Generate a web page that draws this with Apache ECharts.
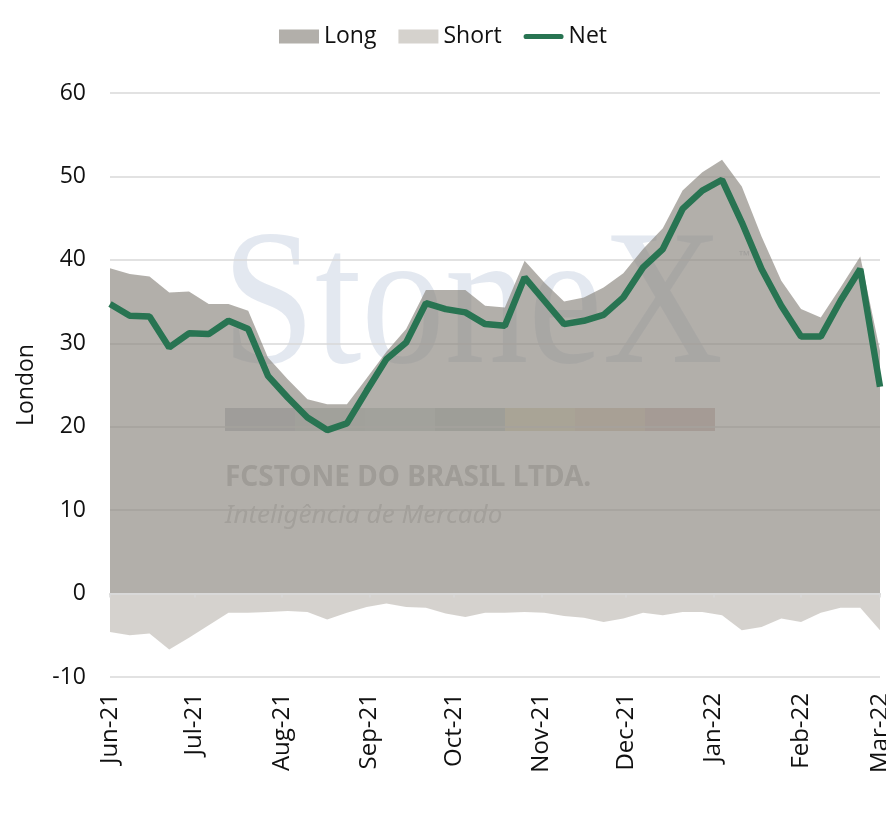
<!DOCTYPE html>
<html>
<head>
<meta charset="utf-8">
<script src="https://cdn.jsdelivr.net/npm/echarts@6/dist/echarts.min.js"></script>
<style>
  html, body { margin: 0; padding: 0; background: #fff; }
  #plot { width: 886px; height: 827px; }
</style>
</head>
<body>
<div id="plot"></div>
<script>
// weekly report dates (Tuesdays)
const weeks = [
    '2021-06-01', '2021-06-08', '2021-06-15', '2021-06-22', '2021-06-29',
    '2021-07-06', '2021-07-13', '2021-07-20', '2021-07-27',
    '2021-08-03', '2021-08-10', '2021-08-17', '2021-08-24', '2021-08-31',
    '2021-09-07', '2021-09-14', '2021-09-21', '2021-09-28',
    '2021-10-05', '2021-10-12', '2021-10-19', '2021-10-26',
    '2021-11-02', '2021-11-09', '2021-11-16', '2021-11-23', '2021-11-30',
    '2021-12-07', '2021-12-14', '2021-12-21', '2021-12-28',
    '2022-01-04', '2022-01-11', '2022-01-18', '2022-01-25',
    '2022-02-01', '2022-02-08', '2022-02-15', '2022-02-22',
    '2022-03-01'
];

const longPos = [
    39.0, 38.3, 38.0, 36.1, 36.2, 34.7, 34.7, 33.9, 28.3, 25.7,
    23.3, 22.7, 22.7, 25.8, 29.0, 31.7, 36.4, 36.4, 36.4, 34.5,
    34.3, 39.9, 37.3, 35.0, 35.5, 36.7, 38.4, 41.3, 43.8, 48.3,
    50.5, 52.0, 48.8, 42.8, 37.5, 34.1, 33.1, 36.7, 40.4, 29.1
];

const shortPos = [
    -4.6, -5.0, -4.8, -6.7, -5.3, -3.8, -2.3, -2.3, -2.2, -2.1,
    -2.2, -3.1, -2.3, -1.6, -1.2, -1.6, -1.7, -2.4, -2.8, -2.3,
    -2.3, -2.2, -2.3, -2.7, -2.9, -3.4, -3.0, -2.3, -2.6, -2.2,
    -2.2, -2.6, -4.4, -4.0, -3.0, -3.4, -2.3, -1.7, -1.7, -4.4
];

const netPos = [
    34.7, 33.3, 33.2, 29.5, 31.2, 31.1, 32.7, 31.7, 26.1, 23.5,
    21.1, 19.6, 20.4, 24.3, 28.1, 30.1, 34.8, 34.1, 33.7, 32.3,
    32.1, 37.9, 35.1, 32.3, 32.7, 33.4, 35.5, 39.1, 41.3, 46.1,
    48.3, 49.6, 44.5, 38.9, 34.5, 30.8, 30.8, 35.1, 38.9, 24.8
];

const tickDates = [
    '2021-06-01', '2021-07-01', '2021-08-01', '2021-09-01', '2021-10-01',
    '2021-11-01', '2021-12-01', '2022-01-01', '2022-02-01', '2022-03-01'
];
const tickLabels = [
    'Jun-21', 'Jul-21', 'Aug-21', 'Sep-21', 'Oct-21',
    'Nov-21', 'Dec-21', 'Jan-22', 'Feb-22', 'Mar-22'
];

const yTicks = [-10, 0, 10, 20, 30, 40, 50, 60];

// dates -> day numbers (days since 2021-06-01), so the x axis is a plain value axis
function toDay(s) {
    const p = s.split('-').map(Number);
    return Math.round((Date.UTC(p[0], p[1] - 1, p[2]) - Date.UTC(2021, 5, 1)) / 86400000);
}

function drawPlot() {
    const chartDom = document.getElementById('plot');
    const myChart = echarts.init(chartDom);

    const tickDays = tickDates.map(toDay);
    const pair = arr => weeks.map((w, i) => [toDay(w), arr[i]]);
    const font = '"Open Sans", "Noto Sans", sans-serif';

    // StoneX watermark colour strip
    const stripColors = ['#c7cbcf', '#cdd5d4', '#cfd9d5', '#c3cec9', '#e4dfc4', '#e2d3c0', '#d9c3c1'];
    const strip = stripColors.map((c, i) => ({
        type: 'rect',
        z: -1,
        shape: { x: 225 + i * 70, y: 408, width: 70, height: 23 },
        style: { fill: c }
    }));

    const option = {
        animation: false,
        textStyle: { fontFamily: font },
        graphic: [
            {
                type: 'text',
                z: -1,
                x: 222, y: 312,
                scaleX: 0.87,
                style: {
                    text: 'StoneX',
                    font: 'normal 192px "Liberation Serif", "DejaVu Serif", serif',
                    fill: 'rgba(200,210,225,0.5)',
                    textAlign: 'left',
                    textVerticalAlign: 'middle'
                }
            },
            {
                type: 'text',
                z: -1,
                x: 738, y: 256,
                style: { text: '™', font: '12px sans-serif', fill: '#c8ccd4', textVerticalAlign: 'middle' }
            },
            ...strip,
            {
                type: 'text',
                z: -1,
                x: 225, y: 478,
                style: {
                    text: 'FCSTONE DO BRASIL LTDA.',
                    font: 'bold 28px "Noto Sans", sans-serif',
                    fill: '#c6c6c6',
                    textVerticalAlign: 'middle'
                }
            },
            {
                type: 'text',
                z: -1,
                x: 225, y: 516,
                style: {
                    text: 'Inteligência de Mercado',
                    font: 'italic 26px "Noto Sans", sans-serif',
                    fill: '#d2d2d2',
                    textVerticalAlign: 'middle'
                }
            }
        ],
        legend: {
            top: 20,
            left: 'center',
            itemWidth: 40,
            itemHeight: 14,
            itemGap: 22,
            textStyle: { fontSize: 23, color: '#111', fontFamily: font },
            data: [
                { name: 'Long', icon: 'rect', itemStyle: { color: '#b2afaa' } },
                { name: 'Short', icon: 'rect', itemStyle: { color: '#d5d2cd' } },
                {
                    name: 'Net',
                    icon: 'path://M3,0 H43 A3,3 0 0 1 43,6 H3 A3,3 0 0 1 3,0 Z',
                    itemStyle: { color: '#287452' }
                }
            ]
        },
        grid: { left: 110, right: 6, top: 93, bottom: 150, outerBoundsMode: 'none', containLabel: false },
        xAxis: [
            {
                type: 'value',
                min: tickDays[0],
                max: tickDays[tickDays.length - 1],
                position: 'bottom',
                axisLine: { show: false, onZero: false },
                axisTick: { show: false },
                splitLine: { show: false },
                axisLabel: {
                    rotate: 90,
                    margin: 16,
                    fontSize: 24,
                    color: '#111',
                    fontFamily: font,
                    customValues: tickDays,
                    showMinLabel: true,
                    showMaxLabel: true,
                    formatter: v => {
                        const k = tickDays.indexOf(v);
                        return k >= 0 ? tickLabels[k] : '';
                    }
                }
            },
            {
                type: 'value',
                min: tickDays[0],
                max: tickDays[tickDays.length - 1],
                position: 'bottom',
                z: 10,
                axisLine: { show: true, onZero: true, lineStyle: { color: '#d9d9d9', width: 2 } },
                axisTick: {
                    show: true,
                    length: 4,
                    customValues: tickDays,
                    lineStyle: { color: '#d9d9d9', width: 1.5 }
                },
                axisLabel: { show: false },
                splitLine: { show: false }
            }
        ],
        yAxis: {
            type: 'value',
            min: yTicks[0],
            max: yTicks[yTicks.length - 1],
            interval: 10,
            name: 'London',
            nameLocation: 'middle',
            nameRotate: 90,
            nameGap: 72,
            nameTextStyle: { fontSize: 23, color: '#111', fontFamily: font },
            axisLine: { show: false },
            axisTick: { show: false },
            axisLabel: { fontSize: 23, color: '#111', margin: 24, fontFamily: font },
            splitLine: { lineStyle: { color: '#d9d9d9', width: 1.5 } }
        },
        series: [
            {
                name: 'Long',
                type: 'line',
                xAxisIndex: 0,
                data: pair(longPos),
                symbol: 'none',
                itemStyle: { color: '#b2afaa' },
                lineStyle: { width: 0 },
                areaStyle: { color: 'rgb(138,133,126)', opacity: 0.66 },
                z: 2
            },
            {
                name: 'Short',
                type: 'line',
                xAxisIndex: 0,
                data: pair(shortPos),
                symbol: 'none',
                itemStyle: { color: '#d5d2cd' },
                lineStyle: { width: 0 },
                areaStyle: { color: 'rgb(191,187,181)', opacity: 0.66 },
                z: 2
            },
            {
                name: 'Net',
                type: 'line',
                xAxisIndex: 0,
                data: pair(netPos),
                symbol: 'none',
                itemStyle: { color: '#287452' },
                lineStyle: { color: '#287452', width: 6.5 },
                z: 5
            }
        ]
    };

    myChart.setOption(option);
    window.addEventListener('resize', () => myChart.resize());
}

drawPlot();
</script>
</body>
</html>
